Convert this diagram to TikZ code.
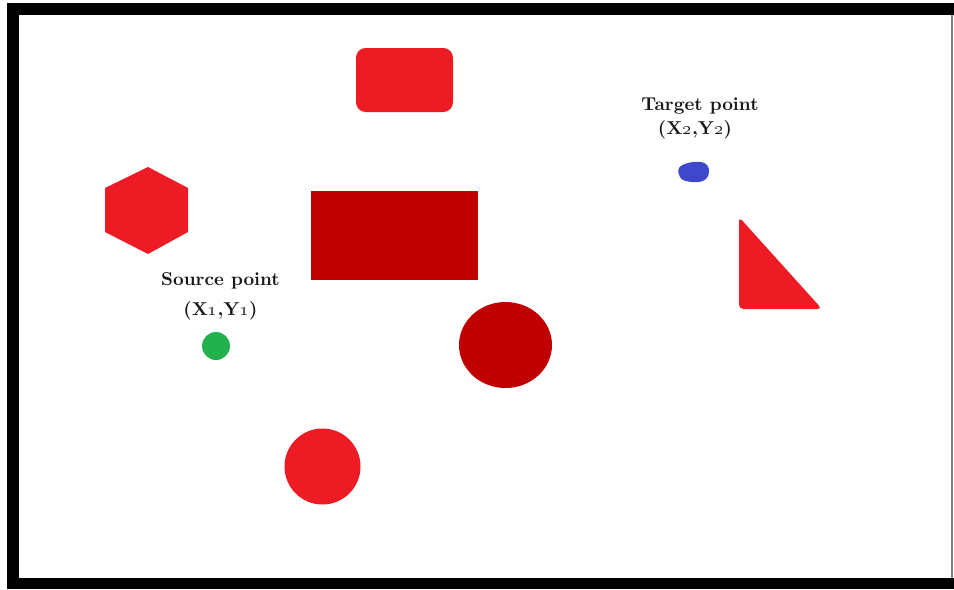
\documentclass[tikz,border=0pt]{standalone}
\usepackage{tikz}
\usetikzlibrary{positioning}
\definecolor{paintred}{HTML}{ED1C24}
\definecolor{darkred}{HTML}{C00000}
\definecolor{paintgreen}{HTML}{22B14C}
\definecolor{paintblue}{HTML}{3F48CC}

\begin{document}
\begin{tikzpicture}[x=0.02cm,y=-0.02cm,
    pointlabel/.style={font=\fontsize{10.6}{12}\selectfont\bfseries, text=black!90, inner sep=0pt}]
    \useasboundingbox (0,0) rectangle (954,589);
    % Frame
    \fill[black] (7,3) rectangle (954,15);
    \fill[black] (7,3) rectangle (19,589);
    \fill[black] (7,578) rectangle (954,589);
    \draw[gray,line width=1.2pt] (952,15) -- (952,578);
    % Obstacles
    \fill[paintred,rounded corners=5.5pt] (356,48) rectangle (453,112);
    \fill[paintred] (148,167) -- (188,188) -- (188,232) -- (148,254)
        -- (105,232) -- (105,188) -- cycle;
    \fill[darkred] (311,191) rectangle (478,280);
    \fill[darkred] (505.5,345) ellipse [x radius=46.5, y radius=43];
    \fill[paintred] (322.5,466.5) circle [radius=38];
    \fill[paintred,rounded corners=2.5pt] (739,217) -- (822,309) -- (739,309) -- cycle;
    % Source point
    \fill[paintgreen] (216,346) circle [radius=14];
    \node[pointlabel] (src) at (220.5,281) {Source point};
    \node[pointlabel,below=0.24cm of src] (srcxy) {(X\oldstylenums{1},Y\oldstylenums{1})};
    % Target point
    \fill[paintblue] plot[smooth cycle,tension=0.7] coordinates
        {(679,168) (688,163) (700,162) (707,165) (709,172) (706,179)
         (698,182) (686,181) (680,177)};
    \node[pointlabel] (tgt) at (700,106) {Target point};
    \node[pointlabel,below=0.11cm of tgt,xshift=-0.1cm] (tgtxy) {(X\oldstylenums{2},Y\oldstylenums{2})};
\end{tikzpicture}
\end{document}
